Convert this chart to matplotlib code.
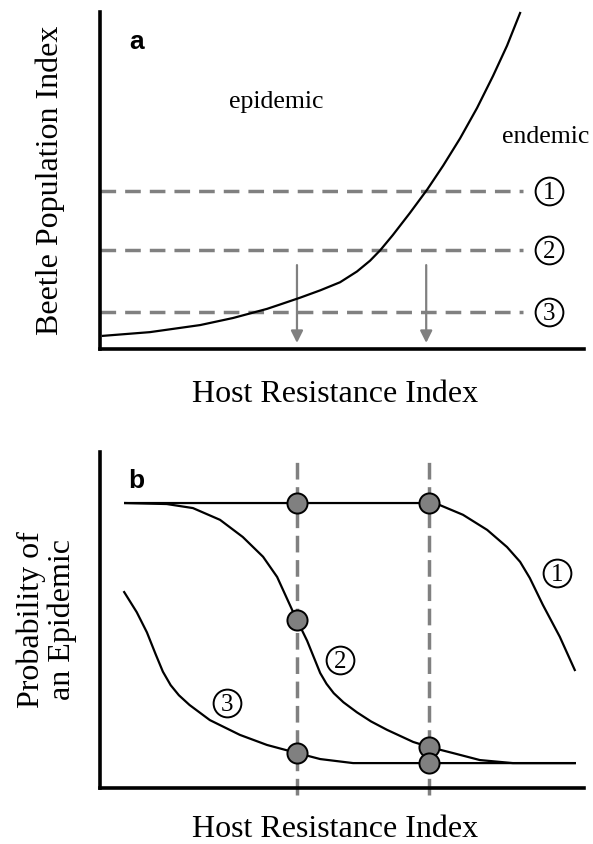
import numpy as np
import matplotlib.pyplot as plt

# panel a: beetle population vs host resistance (index units 0-100)
curva_x = [0.6, 10.3, 20.7, 27.5, 34.5, 37.2, 41.3, 45.5, 49.6, 53.1, 55.8, 57.9,
           60.5, 64.0, 67.6, 70.9, 74.4, 77.9, 81.2, 84.1, 86.8]
curva_y = [3.9, 5.0, 7.1, 9.2, 11.9, 13.2, 15.2, 17.4, 19.8, 23.0, 26.2, 29.3,
           33.8, 40.3, 47.3, 54.4, 62.5, 71.5, 81.0, 90.0, 99.7]
niveles = [47.0, 29.4, 11.1]          # dashed population levels 1, 2, 3
flechas_x = [40.7, 67.4]
etiquetas = ['1', '2', '3']

# panel b: probability of an epidemic
c1_x = [5.2, 41.3, 68.0, 70.2, 75.0, 80.0, 84.1, 86.8, 88.8, 91.5, 95.0, 98.1]
c1_y = [84.8, 84.8, 84.8, 84.2, 81.3, 76.8, 71.7, 67.3, 62.5, 54.5, 45.0, 35.1]
c2_x = [5.2, 13.8, 19.2, 24.8, 29.5, 33.7, 36.6, 39.7, 40.7, 42.8, 45.5, 46.8,
        48.3, 50.3, 53.1, 56.0, 59.3, 64.7, 68.0, 72.9, 78.5, 85.3, 98.1]
c2_y = [84.8, 84.5, 83.3, 79.8, 74.7, 68.8, 62.8, 53.0, 50.0, 43.8, 34.2, 31.0,
        28.2, 25.5, 22.5, 19.8, 17.3, 13.7, 12.2, 10.4, 8.3, 7.4, 7.4]
c3_x = [5.0, 7.6, 9.7, 11.5, 13.0, 14.6, 16.3, 18.5, 22.7, 28.9, 34.5, 40.7,
        45.5, 52.3, 98.1]
c3_y = [58.3, 52.3, 46.3, 39.8, 34.6, 30.6, 27.6, 24.7, 20.2, 15.8, 12.8, 10.4,
        8.6, 7.4, 7.4]
cortes_x = [40.7, 68.0]
puntos_x = [40.7, 68.0, 40.7, 68.0, 68.0, 40.7]
puntos_y = [84.8, 84.8, 50.0, 12.2, 7.4, 10.4]
etiq_b_x = [94.4, 49.6, 26.2]
etiq_b_y = [64.0, 38.1, 25.3]

gris = '#808080'
serif = 'Liberation Serif'
sans = 'Liberation Sans'

fig = plt.figure(figsize=(5.93, 8.44), dpi=100)
axa = fig.add_axes([0.1686, 0.5865, 0.8162, 0.3993])
axb = fig.add_axes([0.1686, 0.0664, 0.8162, 0.3981])

for ax in (axa, axb):
    ax.set_xlim(0, 100)
    ax.set_ylim(0, 100)
    ax.spines[['top', 'right']].set_visible(False)
    ax.spines[['left', 'bottom']].set_linewidth(2.6)
    ax.set_xticks([])
    ax.set_yticks([])
    ax.patch.set_alpha(0)

# ---- panel a
for y in niveles:
    axa.plot([0, 87.4], [y, y], color=gris, lw=2.5, dashes=(4.5, 2.6), zorder=1)
for y, t in zip(niveles, etiquetas):
    axa.plot(92.8, y, 'o', ms=20, mfc='white', mec='black', mew=1.4, clip_on=False)
    axa.text(92.8, y, t, family=serif, fontsize=18, ha='center', va='center_baseline')
for x in flechas_x:
    axa.annotate('', xy=(x, 1.8), xytext=(x, 24.9),
                 arrowprops=dict(arrowstyle='-|>', color=gris, lw=1.6,
                                 mutation_scale=18, shrinkA=0, shrinkB=0))
axa.plot(curva_x, curva_y, color='black', lw=1.6, clip_on=False, zorder=3)

axa.text(7.6, 91.1, 'a', family=sans, weight='bold', fontsize=19, ha='center', va='center')
axa.text(36.4, 73.3, 'epidemic', family=serif, fontsize=18.5, ha='center', va='center')
axa.text(92.1, 62.9, 'endemic', family=serif, fontsize=18.5, ha='center', va='center')
axa.text(-0.103, 0.5, 'Beetle Population Index', transform=axa.transAxes, family=serif,
         fontsize=23, rotation=90, ha='center', va='center')
axa.text(0.485, -0.157, 'Host Resistance Index', transform=axa.transAxes, family=serif,
         fontsize=23, ha='center', va='baseline')

# ---- panel b
for x in cortes_x:
    axb.plot([x, x], [-2.1, 97.6], color=gris, lw=2.5, dashes=(4.8, 2.2), zorder=1, clip_on=False)
axb.plot(c1_x, c1_y, color='black', lw=1.6, zorder=2)
axb.plot(c2_x, c2_y, color='black', lw=1.6, zorder=2)
axb.plot(c3_x, c3_y, color='black', lw=1.6, zorder=2)
axb.plot(puntos_x, puntos_y, 'o', ms=14.5, mfc=gris, mec='black', mew=1.4, zorder=3)
for x, y, t in zip(etiq_b_x, etiq_b_y, etiquetas):
    axb.plot(x, y, 'o', ms=20, mfc='white', mec='black', mew=1.4, zorder=4)
    axb.text(x, y, t, family=serif, fontsize=18, ha='center', va='center_baseline', zorder=5)

axb.text(7.6, 91.4, 'b', family=sans, weight='bold', fontsize=19, ha='center', va='center')
axb.text(-0.11, 0.5, 'Probability of\nan Epidemic', transform=axb.transAxes, family=serif,
         fontsize=23, rotation=90, ha='center', va='center', linespacing=1.05)
axb.text(0.485, -0.146, 'Host Resistance Index', transform=axb.transAxes, family=serif,
         fontsize=23, ha='center', va='baseline')

fig.savefig('out.png', dpi=100)
